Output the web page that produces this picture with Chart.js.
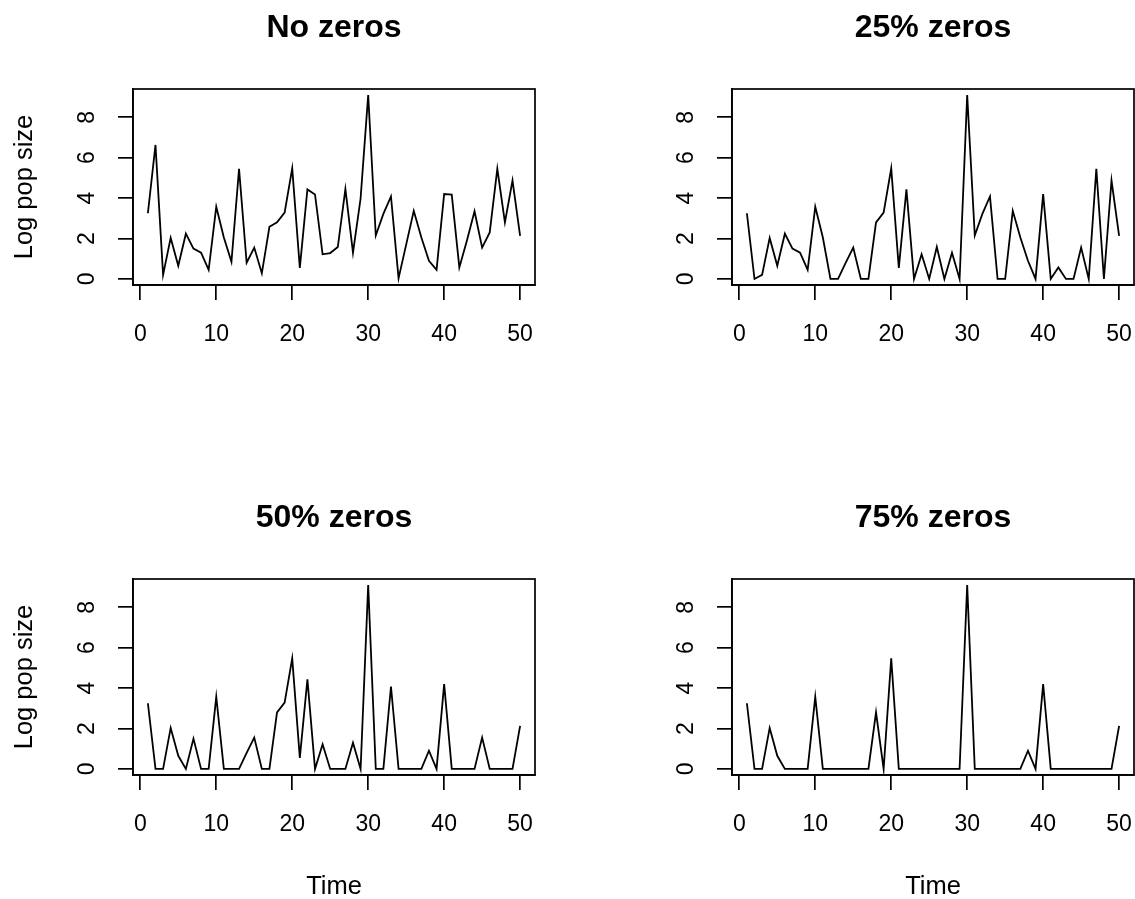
<!DOCTYPE html>
<html>
<head>
<meta charset="utf-8">
<script src="https://cdn.jsdelivr.net/npm/chart.js@4.4.1/dist/chart.umd.min.js"></script>
<style>
  html, body { margin: 0; padding: 0; background: #fff; overflow: hidden; }
  canvas { position: absolute; }
</style>
</head>
<body>
<canvas id="p1" width="567" height="440" style="left:0px;top:0px"></canvas>
<canvas id="p2" width="567" height="440" style="left:599px;top:0px"></canvas>
<canvas id="p3" width="567" height="409" style="left:0px;top:490px"></canvas>
<canvas id="p4" width="567" height="409" style="left:599px;top:490px"></canvas>
<script>
// time steps 1..50
const timeSteps = [1,2,3,4,5,6,7,8,9,10,11,12,13,14,15,16,17,18,19,20,
                   21,22,23,24,25,26,27,28,29,30,31,32,33,34,35,36,37,38,39,40,
                   41,42,43,44,45,46,47,48,49,50];

const noZeros = [3.25,6.63,0.2,2.03,0.65,2.24,1.5,1.3,0.45,3.57,
                 2.05,0.85,5.45,0.8,1.55,0.28,2.58,2.8,3.28,5.47,
                 0.55,4.43,4.18,1.22,1.28,1.58,4.45,1.3,3.98,9.1,
                 2.15,3.22,4.08,0.03,1.7,3.37,2.05,0.9,0.45,4.2,
                 4.17,0.57,1.9,3.35,1.55,2.3,5.45,2.8,4.87,2.13];

const zeros25 = [3.25,0,0.2,2.03,0.65,2.24,1.5,1.3,0.45,3.57,
                 2.05,0,0,0.8,1.55,0,0,2.8,3.28,5.47,
                 0.55,4.43,0,1.22,0,1.58,0,1.3,0,9.1,
                 2.15,3.22,4.08,0,0,3.37,2.05,0.9,0,4.2,
                 0,0.57,0,0,1.55,0,5.45,0,4.87,2.13];

const zeros50 = [3.25,0,0,2.03,0.65,0,1.5,0,0,3.57,
                 0,0,0,0.8,1.55,0,0,2.8,3.28,5.47,
                 0.55,4.43,0,1.22,0,0,0,1.3,0,9.1,
                 0,0,4.08,0,0,0,0,0.9,0,4.2,
                 0,0,0,0,1.55,0,0,0,0,2.13];

const zeros75 = [3.25,0,0,2.03,0.65,0,0,0,0,3.57,
                 0,0,0,0,0,0,0,2.8,0,5.47,
                 0,0,0,0,0,0,0,0,0,9.1,
                 0,0,0,0,0,0,0,0.9,0,4.2,
                 0,0,0,0,0,0,0,0,0,2.13];

const xTickValues = [0, 10, 20, 30, 40, 50];
const yTickValues = [0, 2, 4, 6, 8];

const FONT = 'Liberation Sans, Arial, sans-serif';
const TXT = '#000';

// rectangle round the plot region, as R's box()
const boxPlugin = {
    id: 'plotBox',
    afterDraw(chart) {
        const {ctx, chartArea: a} = chart;
        ctx.save();
        ctx.strokeStyle = '#000';
        ctx.lineWidth = 1.7;
        ctx.strokeRect(a.left, a.top, a.right - a.left, a.bottom - a.top);
        ctx.restore();
    }
};

// y tick labels are vertical in R (las = 0)
const yLabelPlugin = {
    id: 'yTickLabels',
    afterDraw(chart) {
        const {ctx, scales: {y}, chartArea} = chart;
        ctx.save();
        ctx.font = '23px ' + FONT;
        ctx.fillStyle = TXT;
        ctx.textAlign = 'center';
        ctx.textBaseline = 'middle';
        yTickValues.forEach(v => {
            const py = y.getPixelForValue(v);
            ctx.save();
            ctx.translate(chartArea.left - 45, py);
            ctx.rotate(-Math.PI / 2);
            ctx.fillText(String(v), 0, 0);
            ctx.restore();
        });
        ctx.restore();
    }
};

function makePanel(id, title, values, showYTitle, showXTitle) {
    const canvas = document.getElementById(id);
    const xHeight = canvas.height - 285;
    new Chart(canvas.getContext('2d'), {
        type: 'line',
        data: {
            datasets: [{
                data: values.map((v, i) => ({x: timeSteps[i], y: v})),
                borderColor: '#000',
                borderWidth: 1.8,
                pointRadius: 0,
                tension: 0,
                fill: false
            }]
        },
        options: {
            responsive: false,
            animation: false,
            events: [],
            layout: { padding: { left: 0, right: canvas.width - 535, top: 0, bottom: 0 } },
            plugins: {
                legend: { display: false },
                tooltip: { enabled: false },
                title: {
                    display: true,
                    fullSize: false,
                    text: title,
                    color: TXT,
                    font: { family: FONT, size: 32, weight: 'bold', lineHeight: 1.2 },
                    padding: { top: 9, bottom: 41.6 }
                }
            },
            scales: {
                x: {
                    type: 'linear',
                    min: -0.96,
                    max: 51.96,
                    afterBuildTicks: s => { s.ticks = xTickValues.map(v => ({value: v})); },
                    afterFit: s => { s.height = xHeight; },
                    grid: { drawOnChartArea: false, tickLength: 15, color: '#000', lineWidth: 1.7 },
                    border: { display: true, color: '#000', width: 1.7 },
                    ticks: { color: TXT, font: { family: FONT, size: 23 }, padding: 21, maxRotation: 0, autoSkip: false },
                    title: {
                        display: showXTitle,
                        text: 'Time',
                        color: TXT,
                        font: { family: FONT, size: 25.5, lineHeight: 1 },
                        padding: { top: 0, bottom: -1 }
                    }
                },
                y: {
                    min: -0.3,
                    max: 9.4,
                    afterBuildTicks: s => { s.ticks = yTickValues.map(v => ({value: v})); },
                    afterFit: s => { s.width = 133; },
                    grid: { drawOnChartArea: false, tickLength: 15, color: '#000', lineWidth: 1.7 },
                    border: { display: true, color: '#000', width: 1.7 },
                    ticks: { display: false },
                    title: {
                        display: showYTitle,
                        text: 'Log pop size',
                        color: TXT,
                        font: { family: FONT, size: 25.5, lineHeight: 1 },
                        padding: { top: 12, bottom: 0 }
                    }
                }
            }
        },
        plugins: [boxPlugin, yLabelPlugin]
    });
}

makePanel('p1', 'No zeros', noZeros, true, false);
makePanel('p2', '25% zeros', zeros25, false, false);
makePanel('p3', '50% zeros', zeros50, true, true);
makePanel('p4', '75% zeros', zeros75, false, true);
</script>
</body>
</html>
